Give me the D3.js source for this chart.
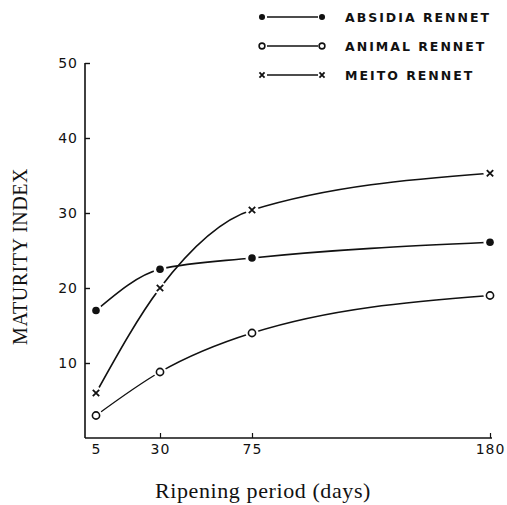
<!DOCTYPE html>
<html>
<head>
<meta charset="utf-8">
<script src="https://cdn.jsdelivr.net/npm/d3@7"></script>
<style>
  html, body { margin: 0; padding: 0; background: #fff; }
  svg { display: block; }
</style>
</head>
<body>
<script>
// Ripening period (days) and maturity index of cheese made with each rennet
const days = [5, 30, 75, 180];
const yTicks = [10, 20, 30, 40, 50];
const absidia = [17, 22.5, 24, 26.1];
const animal = [3, 8.8, 14, 19];
const meito = [6, 20, 30.4, 35.3];
const seriesNames = ["ABSIDIA RENNET", "ANIMAL RENNET", "MEITO RENNET"];

const W = 507, H = 505;
const svg = d3.select("body").append("svg").attr("width", W).attr("height", H);

// The day axis is drawn with uneven spacing between its four ticks
const x = d3.scaleLinear().domain(days).range([96, 160, 252, 490]);
const y = d3.scaleLinear().domain([0, 50]).range([438, 63]);

const ink = "#111";

// Axis frame
svg.append("line").attr("x1", 85).attr("x2", 85).attr("y1", y(50)).attr("y2", y(0))
  .attr("stroke", ink).attr("stroke-width", 1.6);
svg.append("line").attr("x1", 85).attr("x2", 492).attr("y1", y(0)).attr("y2", y(0))
  .attr("stroke", ink).attr("stroke-width", 1.4);

const yAxis = d3.axisLeft(y).tickValues(yTicks).tickSize(-5).tickPadding(7).tickSizeOuter(0);
const gy = svg.append("g").attr("transform", "translate(85,0)").call(yAxis);
gy.select(".domain").remove();
gy.selectAll(".tick line").attr("stroke", ink).attr("stroke-width", 1.4);
gy.selectAll(".tick text").attr("fill", ink)
  .style("font-family", "'DejaVu Sans', sans-serif").style("font-size", "14px")
  .style("letter-spacing", "1px");

const xAxis = d3.axisBottom(x).tickValues(days).tickSize(-5).tickPadding(6).tickSizeOuter(0);
const gx = svg.append("g").attr("transform", `translate(0,${y(0)})`).call(xAxis);
gx.select(".domain").remove();
gx.selectAll(".tick line").attr("stroke", ink).attr("stroke-width", 1.2)
  .attr("opacity", d => d === days[0] ? 0 : 1);
gx.selectAll(".tick text").attr("fill", ink)
  .style("font-family", "'DejaVu Sans', sans-serif").style("font-size", "14px")
  .style("letter-spacing", "1px");

// Axis titles
svg.append("text")
  .attr("transform", `translate(27,${(y(0) + y(50)) / 2 + 6}) rotate(-90)`)
  .attr("text-anchor", "middle")
  .style("font-family", "'Liberation Serif', serif").style("font-size", "20px")
  .style("letter-spacing", "0.5px")
  .attr("fill", ink).text("MATURITY INDEX");
svg.append("text")
  .attr("x", 263).attr("y", 498).attr("text-anchor", "middle")
  .style("font-family", "'Liberation Serif', serif").style("font-size", "22px")
  .style("letter-spacing", "0.6px")
  .attr("fill", ink).text("Ripening period (days)");

// Series lines
const line = d3.line().x((d, i) => x(days[i])).y(d => y(d)).curve(d3.curveMonotoneX);
const series = [
  { name: seriesNames[0], values: absidia, marker: "dot" },
  { name: seriesNames[1], values: animal, marker: "ring" },
  { name: seriesNames[2], values: meito, marker: "cross" }
];

series.forEach(s => {
  svg.append("path").attr("d", line(s.values)).attr("fill", "none")
    .attr("stroke", ink).attr("stroke-width", s.marker === "ring" ? 1.4 : 1.7);
});

function drawMarker(g, type, cx, cy, halo, scale) {
  const k = scale || 1;
  if (halo) {
    g.append("circle").attr("cx", cx).attr("cy", cy).attr("r", 6.5).attr("fill", "#fff");
  }
  if (type === "dot") {
    g.append("circle").attr("cx", cx).attr("cy", cy).attr("r", 3.8 * k).attr("fill", ink);
  } else if (type === "ring") {
    g.append("circle").attr("cx", cx).attr("cy", cy).attr("r", 3.6 * k)
      .attr("fill", "#fff").attr("stroke", ink).attr("stroke-width", 1.6);
  } else {
    const r = 3.2 * k;
    g.append("path")
      .attr("d", `M${cx - r},${cy - r}L${cx + r},${cy + r}M${cx - r},${cy + r}L${cx + r},${cy - r}`)
      .attr("stroke", ink).attr("stroke-width", 1.8);
  }
}

const mg = svg.append("g");
series.forEach(s => {
  s.values.forEach((v, i) => drawMarker(mg, s.marker, x(days[i]), y(v), true, 1));
});

// Legend
const legend = svg.append("g");
series.forEach((s, i) => {
  const ly = 17 + i * 29;
  legend.append("line").attr("x1", 267).attr("x2", 318).attr("y1", ly).attr("y2", ly)
    .attr("stroke", ink).attr("stroke-width", 1.3);
  drawMarker(legend, s.marker, 262, ly, false, 0.8);
  drawMarker(legend, s.marker, 322, ly, false, 0.8);
  legend.append("text").attr("x", 345).attr("y", ly + 5)
    .style("font-family", "'DejaVu Sans', sans-serif").style("font-size", "12.5px")
    .style("font-weight", "bold").style("letter-spacing", "2px")
    .attr("fill", ink).text(s.name);
});
</script>
</body>
</html>
